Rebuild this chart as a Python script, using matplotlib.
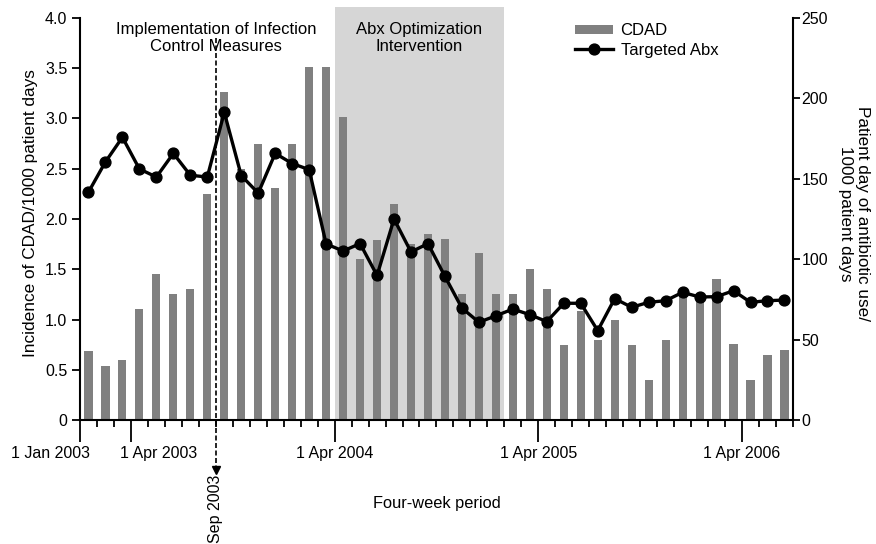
import numpy as np
import matplotlib
matplotlib.use("Agg")
import matplotlib.pyplot as plt
from matplotlib.transforms import ScaledTranslation

plt.rcParams["font.family"] = ["Liberation Sans", "DejaVu Sans"]
plt.rcParams["font.size"] = 11.5

# CDAD incidence per four-week period (per 1000 patient days)
cdad = [0.69, 0.54, 0.60, 1.10, 1.45, 1.25, 1.30, 2.25, 3.26, 2.50,
        2.75, 2.31, 2.75, 3.51, 3.51, 3.01, 1.60, 1.79, 2.15, 1.75,
        1.85, 1.80, 1.25, 1.66, 1.25, 1.25, 1.50, 1.30, 0.75, 1.08,
        0.80, 1.00, 0.75, 0.40, 0.80, 1.25, 1.25, 1.40, 0.76, 0.40,
        0.65, 0.70]

# targeted antibiotic use (patient days / 1000 patient days)
abx = [141.7, 160.5, 175.8, 156.1, 151.1, 165.8, 152.2, 151.1, 191.3, 152.0,
       141.1, 165.8, 159.5, 155.7, 109.5, 105.1, 109.7, 89.9, 125.0, 104.5,
       109.7, 89.3, 69.6, 60.8, 64.8, 69.0, 65.5, 61.2, 72.6, 72.6,
       55.6, 75.5, 70.1, 73.2, 74.2, 79.4, 76.5, 76.7, 80.4, 73.2,
       74.2, 74.6]

date_ticks = [0, 3, 15, 27, 39]
date_labels = ["1 Jan 2003", "1 Apr 2003", "1 Apr 2004", "1 Apr 2005", "1 Apr 2006"]
infection_control_start = 8
abx_window = (15, 25)

left_ticks = [0, 0.5, 1.0, 1.5, 2.0, 2.5, 3.0, 3.5, 4.0]
left_labels = ["0", "0.5", "1.0", "1.5", "2.0", "2.5", "3.0", "3.5", "4.0"]
right_ticks = [0, 50, 100, 150, 200, 250]

n = len(cdad)
x = np.arange(n) + 0.5

fig = plt.figure(figsize=(8.76, 5.44), dpi=100)
ax = fig.add_axes([0.0913, 0.2279, 0.8139, 0.7594])
ax2 = ax.twinx()

ymax = 4.11
ax.set_xlim(0, n)
ax.set_ylim(0, ymax)
ax2.set_ylim(0, ymax * 62.5)

ax.axvspan(*abx_window, color="#d6d6d6", lw=0, zorder=0)
bars = ax.bar(x, cdad, width=0.48, color="#808080", zorder=2, label="CDAD")
line, = ax2.plot(x, abx, color="black", lw=2.4, marker="o", markersize=7.8,
                 label="Targeted Abx", zorder=3)

# spines and ticks
for a in (ax, ax2):
    a.spines["top"].set_visible(False)
ax.spines["right"].set_visible(False)
ax2.spines["left"].set_visible(False)
ax2.spines["bottom"].set_visible(False)
ax.spines["left"].set_bounds(0, 4)
ax2.spines["right"].set_bounds(0, 250)
for s in ("left", "bottom"):
    ax.spines[s].set_linewidth(1.5)
ax2.spines["right"].set_linewidth(1.5)

ax.set_yticks(left_ticks, left_labels)
ax2.set_yticks(right_ticks)
ax.tick_params(axis="y", direction="out", length=6, width=1.3, pad=3)
ax2.tick_params(axis="y", direction="out", length=5, width=1.3, pad=1)

ax.set_xticks(date_ticks, date_labels)
ax.set_xticks([i for i in range(n + 1) if i not in date_ticks], minor=True)
ax.tick_params(axis="x", which="major", direction="out", length=16, width=1.3, pad=3)
ax.tick_params(axis="x", which="minor", direction="out", length=5, width=1.3)

# nudge the two crowded labels at the start apart
tlabels = ax.get_xticklabels()
tlabels[0].set_transform(tlabels[0].get_transform() + ScaledTranslation(-0.29, 0, fig.dpi_scale_trans))
tlabels[1].set_transform(tlabels[1].get_transform() + ScaledTranslation(0.28, 0, fig.dpi_scale_trans))

ax.set_ylabel("Incidence of CDAD/1000 patient days", fontsize=12.4, labelpad=5)
ax2.set_ylabel("Patient day of antibiotic use/\n1000 patient days", fontsize=12.3,
               rotation=270, labelpad=30, linespacing=1.1)
ax.set_xlabel("Four-week period", fontsize=11.8, labelpad=25)

# infection control marker running below the axis
trans = ax.get_xaxis_transform()
ax.plot([infection_control_start] * 2, [0.925, -0.115], transform=trans,
        color="black", lw=1.2, ls=(0, (3, 1.5)), clip_on=False, zorder=4)
ax.plot([infection_control_start], [-0.12], transform=trans, marker="v",
        markersize=6, color="black", clip_on=False, zorder=4)
ax.text(infection_control_start, -0.133, "Sep 2003", transform=trans,
        rotation=90, ha="center", va="top")

ax.text(infection_control_start, 3.80, "Implementation of Infection\nControl Measures",
        ha="center", va="center", linespacing=1.15, fontsize=12)
ax.text(sum(abx_window) / 2, 3.80, "Abx Optimization\nIntervention",
        ha="center", va="center", linespacing=1.15, fontsize=12)

ax2.legend([bars, line], ["CDAD", "Targeted Abx"], loc="upper left",
           bbox_to_anchor=(0.694, 0.96), frameon=False, borderpad=0,
           borderaxespad=0, handlelength=2.3, handletextpad=0.45,
           labelspacing=0.25, handleheight=0.5, fontsize=12)

fig.savefig("out.png", dpi=100)
